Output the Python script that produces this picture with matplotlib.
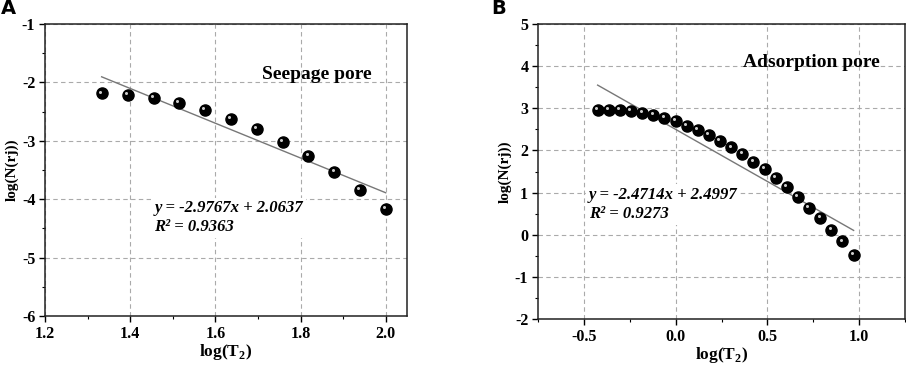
import numpy as np
import matplotlib
matplotlib.use("Agg")
import matplotlib.pyplot as plt
from matplotlib.transforms import offset_copy
from matplotlib.ticker import MultipleLocator

plt.rcParams['font.family'] = ['Liberation Serif', 'DejaVu Serif']
plt.rcParams['mathtext.fontset'] = 'custom'
plt.rcParams['mathtext.rm'] = 'Liberation Serif:bold'
plt.rcParams['mathtext.bf'] = 'Liberation Serif:bold'

# Panel A: seepage pore
xa = [1.333, 1.394, 1.455, 1.515, 1.576, 1.636, 1.697, 1.758, 1.818, 1.879, 1.939, 2.000]
ya = [-2.19, -2.22, -2.27, -2.36, -2.47, -2.63, -2.80, -3.02, -3.26, -3.53, -3.84, -4.17]
slope_a, icpt_a, r2_a = -2.9767, 2.0637, 0.9363

# Panel B: adsorption pore
xb = [-0.425, -0.364, -0.304, -0.243, -0.182, -0.122, -0.061, 0.000, 0.060, 0.121,
      0.182, 0.242, 0.303, 0.364, 0.424, 0.485, 0.545, 0.606, 0.667, 0.727,
      0.788, 0.848, 0.909, 0.970]
yb = [2.97, 2.97, 2.95, 2.93, 2.88, 2.84, 2.77, 2.69, 2.58, 2.49,
      2.36, 2.22, 2.07, 1.91, 1.73, 1.55, 1.34, 1.13, 0.89, 0.64,
      0.39, 0.12, -0.16, -0.47]
slope_b, icpt_b, r2_b = -2.4714, 2.4997, 0.9273

fig = plt.figure(figsize=(9.06, 3.66), dpi=100)
axA = fig.add_axes([45/906, 1-316/366, (407-45)/906, (316-24)/366])
axB = fig.add_axes([538/906, 1-319/366, (905-538)/906, (319-24)/366])

def style(ax, xlim, ylim, xmaj, ymaj):
    ax.set_xlim(*xlim)
    ax.set_ylim(*ylim)
    ax.xaxis.set_major_locator(MultipleLocator(xmaj))
    ax.xaxis.set_minor_locator(MultipleLocator(xmaj/2))
    ax.yaxis.set_major_locator(MultipleLocator(ymaj))
    ax.yaxis.set_minor_locator(MultipleLocator(ymaj/2))
    ax.grid(True, which='major', linestyle=(0, (4, 3)), color='#aaaaaa', linewidth=0.8)
    ax.set_axisbelow(True)
    ax.tick_params(which='major', direction='out', length=4, width=1, labelsize=11.5, pad=3)
    ax.tick_params(which='minor', direction='out', length=2, width=0.8)
    for s in ax.spines.values():
        s.set_linewidth(1.1)
        s.set_color('#222222')
    ax.set_xlabel(r'log(T$_2$)', fontsize=12.5, fontweight='bold', labelpad=0)
    ax.set_ylabel('log(N(rj))', fontsize=11, fontweight='bold', labelpad=2)

def balls(ax, x, y):
    ax.plot(x, y, 'o', color='black', markersize=8, zorder=4)
    tr = offset_copy(ax.transData, fig=fig, x=-1.2, y=1.4, units='points')
    ax.plot(x, y, 'o', color='#cccccc', markersize=2.2, markeredgewidth=0,
            transform=tr, zorder=5)

def fitline(ax, x, slope, icpt):
    xs = np.array([min(x), max(x)])
    ax.plot(xs, slope*xs + icpt, color='#777777', linewidth=1.0, zorder=3)

def equation(ax, x, y, slope, icpt, r2):
    ax.text(x, y, f'y = {slope:.4f}x + {icpt:.4f}\nR² = {r2:.4f}', transform=ax.transAxes,
            fontsize=12, fontweight='bold', style='italic', va='center', ha='left',
            linespacing=1.25, zorder=2,
            bbox=dict(facecolor='white', edgecolor='none', pad=2))

# Panel A
style(axA, (1.2, 2.05), (-6, -1), 0.2, 1)
axA.set_xticks([1.2, 1.4, 1.6, 1.8, 2.0])
axA.set_xticklabels(['1.2', '1.4', '1.6', '1.8', '2.0'], fontweight='bold')
axA.set_yticks(range(-6, 0))
axA.set_yticklabels([str(v) for v in range(-6, 0)], fontweight='bold')
equation(axA, 0.302, 0.336, slope_a, icpt_a, r2_a)
fitline(axA, xa, slope_a, icpt_a)
balls(axA, xa, ya)
axA.text(0.752, 0.827, 'Seepage pore', transform=axA.transAxes, ha='center', va='center',
         fontsize=14, fontweight='bold')

# Panel B
style(axB, (-0.75, 1.25), (-2, 5), 0.5, 1)
axB.set_xticks([-0.5, 0.0, 0.5, 1.0])
axB.set_xticklabels(['-0.5', '0.0', '0.5', '1.0'], fontweight='bold')
axB.set_yticks(range(-2, 6))
axB.set_yticklabels([str(v) for v in range(-2, 6)], fontweight='bold')
equation(axB, 0.138, 0.389, slope_b, icpt_b, r2_b)
fitline(axB, xb, slope_b, icpt_b)
balls(axB, xb, yb)
axB.text(0.745, 0.868, 'Adsorption pore', transform=axB.transAxes, ha='center', va='center',
         fontsize=14, fontweight='bold')

fig.text(1/906, 1-8/366, 'A', fontsize=14, fontweight='bold', family='DejaVu Sans', va='center', ha='left')
fig.text(491/906, 1-8/366, 'B', fontsize=14, fontweight='bold', family='DejaVu Sans', va='center', ha='left')

fig.savefig('out.png', dpi=100)
